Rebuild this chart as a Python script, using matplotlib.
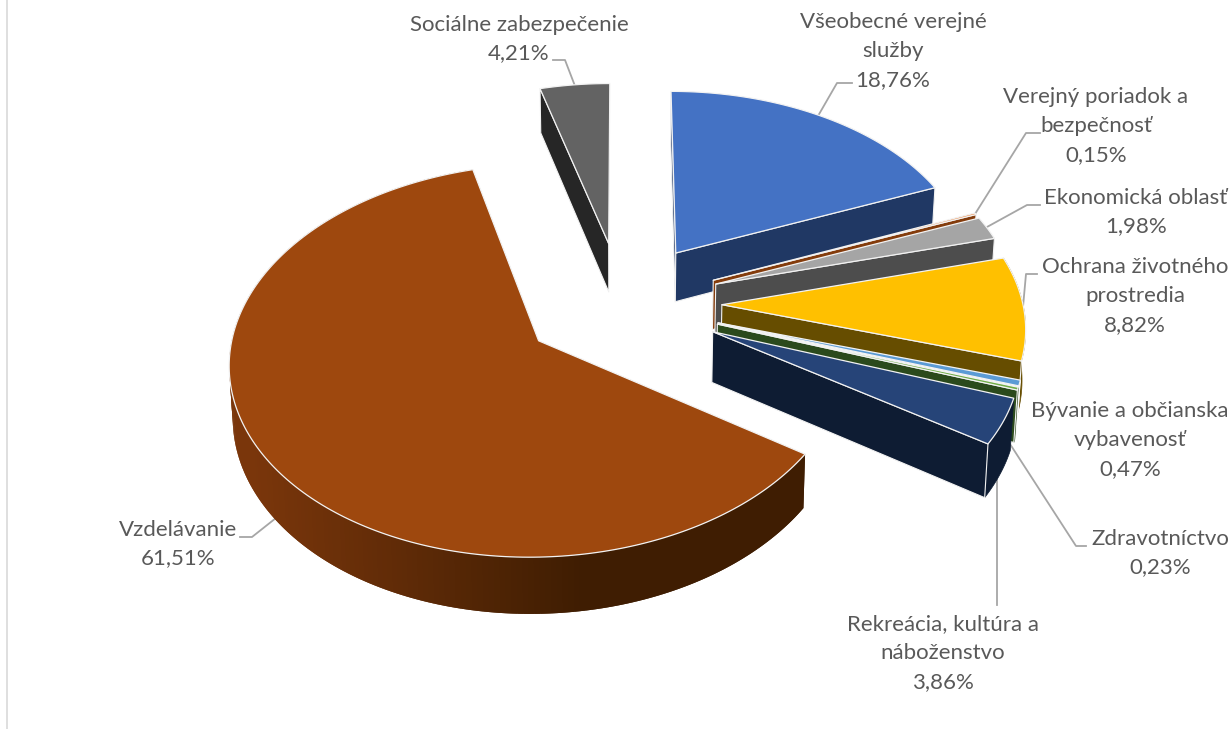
import numpy as np
import matplotlib
matplotlib.use("Agg")
import matplotlib.pyplot as plt
from matplotlib.colors import to_rgb

# ==============================================================
# DATA
# ==============================================================

categories = [
    "Všeobecné verejné\nslužby",
    "Verejný poriadok a\nbezpečnosť",
    "Ekonomická oblasť",
    "Ochrana životného\nprostredia",
    "Bývanie a občianska\nvybavenosť",
    "Zdravotníctvo",
    "Rekreácia, kultúra a\nnáboženstvo",
    "Vzdelávanie",
    "Sociálne zabezpečenie",
]
values = [18.76, 0.15, 1.98, 8.82, 0.47, 0.23, 3.86, 61.51, 4.21]

# ==============================================================
# STYLE / LAYOUT
# ==============================================================

top_colors = ["#4472C4", "#ED7D31", "#A5A5A5", "#FFC000", "#5B9BD5",
              "#70AD47", "#264478", "#9E480E", "#636363"]
side_colors = ["#203864", "#843C0C", "#4D4D4D", "#664D00", "#FFFFFF",
               "#2B4A1C", "#0E1C33", "#3F1D02", "#262626"]

label_pos = [(893, 51), (1096, 126), (1136, 212), (1135, 296), (1130, 440),
             (1160, 553), (943, 653), (178, 544), (519, 39)]

leaders = [
    [(818, 116), (837, 83), (852, 83)],
    [(975, 214), (1026, 133), (1040, 133)],
    [(987, 227), (1027, 205), (1040, 205)],
    [(1023, 307), (1026, 274), (1037, 274)],
    [(1010, 444), (1076, 546), (1086, 546)],
    [(997, 470), (997, 605)],
    [(276, 518), (252, 537), (240, 537)],
    [(575, 86), (565, 60), (553, 60)],
]

# camera, in pixels of the 1232x729 picture
CX, CY = 621.5, 303.5
FX, FY = 304.0, 189.0
PERSP = 0.10
EXPLODE = 0.33
RADIUS = 0.99
DEPTH = 50.0
Z_SHRINK = 0.009


def project(x, y, z=0.0):
    w = 1.0 - PERSP * y
    return CX + FX * x * (1.0 - Z_SHRINK * z) / w, CY + FY * y / w + z * DEPTH / w


def direction(t):
    # t in radians, clockwise from 12 o'clock; y grows towards the viewer
    return np.sin(t), -np.cos(t)


def mix(c1, c2, f):
    a, b = np.array(to_rgb(c1)), np.array(to_rgb(c2))
    return tuple(a + (b - a) * f)


def draw_wedge(ax, t0, t1, top, side):
    mid = (t0 + t1) / 2
    ex, ey = direction(mid)
    ox, oy = EXPLODE * ex, EXPLODE * ey

    n = max(int((t1 - t0) * 60), 4)
    ts = np.linspace(t0, t1, n)
    rx = ox + RADIUS * np.sin(ts)
    ry = oy - RADIUS * np.cos(ts)

    sx, sy = project(rx, ry)
    bx, by = project(rx, ry, 1.0)
    ax0, ay0 = project(ox, oy)
    ax1, ay1 = project(ox, oy, 1.0)

    def wall(i):
        ax.fill([ax0, sx[i], bx[i], ax1], [ay0, sy[i], by[i], ay1],
                facecolor=side, edgecolor="#f2f2f2", linewidth=0.8, joinstyle="round")

    # outer rim, big wedge gets the light falloff to the right
    shaded = (t1 - t0) > np.pi
    rim_at_back = np.cos(t0) > 0 and np.cos(t1) > 0
    if shaded:
        # each band overlaps the next one, so no seams show between them
        for i in range(n - 1, 0, -1):
            f = np.clip((sx[i] - 250.0) / 330.0, 0, 1)
            col = mix("#7A360B", side, f)
            j = max(i - 2, 0)
            ax.fill(np.r_[sx[j:i + 1], bx[j:i + 1][::-1]],
                    np.r_[sy[j:i + 1], by[j:i + 1][::-1]],
                    facecolor=col, edgecolor="none", linewidth=0)
    elif not rim_at_back:
        ax.fill(np.r_[sx, bx[::-1]], np.r_[sy, by[::-1]],
                facecolor=side, edgecolor=side, linewidth=0.5)

    # only walls facing the viewer, the others stay behind the top face
    if np.sin(t0) <= 0:
        wall(0)
    if np.sin(t1) > 0:
        wall(-1)

    ax.fill(np.r_[ax0, sx], np.r_[ay0, sy], facecolor=top,
            edgecolor="#f2f2f2", linewidth=0.9, joinstyle="round")


def main():
    plt.rcParams["font.family"] = ["Lato", "DejaVu Sans"]

    fig = plt.figure(figsize=(12.32, 7.29), dpi=100)
    ax = fig.add_axes([0, 0, 1, 1])
    ax.set_xlim(0, 1232)
    ax.set_ylim(729, 0)
    ax.axis("off")

    # chart frame, only the left side is in the crop
    ax.plot([7, 7], [0, 729], color="#D9D9D9", linewidth=1.2)

    for path in leaders:
        xs, ys = zip(*path)
        ax.plot(xs, ys, color="#A6A6A6", linewidth=1.3, zorder=1)

    bounds = np.r_[0, np.cumsum(values)] / np.sum(values) * 2 * np.pi
    for i in range(len(values)):
        draw_wedge(ax, bounds[i], bounds[i + 1], top_colors[i], side_colors[i])

    for name, val, (x, y) in zip(categories, values, label_pos):
        txt = f"{name}\n{val:.2f}%".replace(".", ",")
        ax.text(x, y, txt, ha="center", va="center", fontsize=16,
                color="#595959", linespacing=1.56, zorder=5)

    fig.savefig("out.png", dpi=100)


if __name__ == "__main__":
    main()
